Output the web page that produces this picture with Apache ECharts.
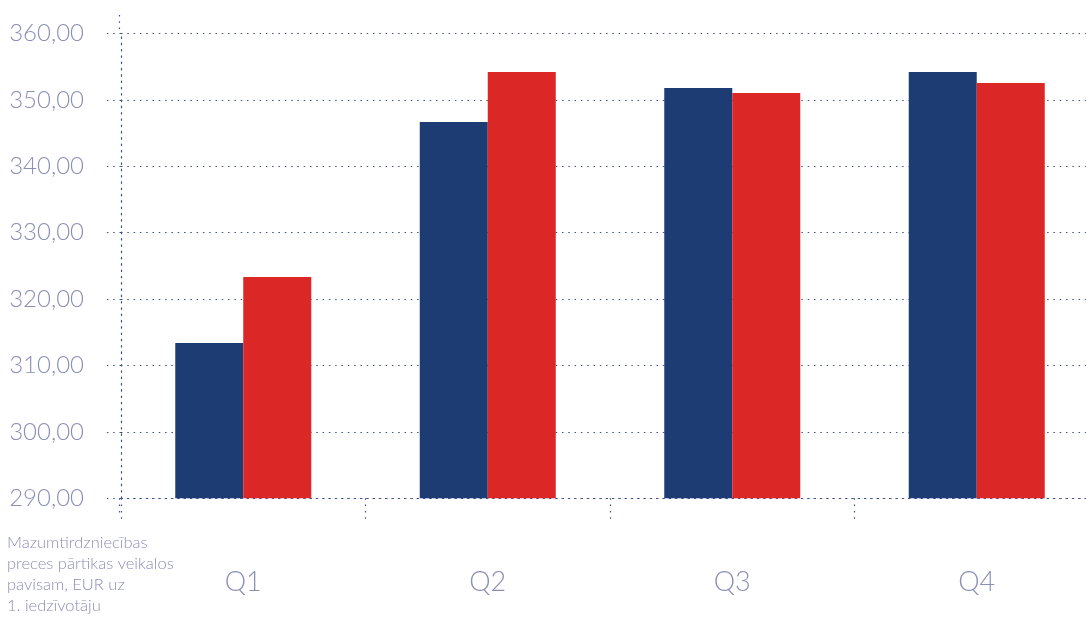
<!DOCTYPE html>
<html>
<head>
<meta charset="utf-8">
<script src="https://cdn.jsdelivr.net/npm/echarts@6/dist/echarts.min.js"></script>
<style>
  html, body { margin: 0; padding: 0; background: #ffffff; overflow: hidden; }
  #chart { width: 1100px; height: 617px; }
</style>
</head>
<body>
<div id="chart"></div>
<script>
// Quarterly retail food-store sales per inhabitant, EUR
const categories = ['Q1', 'Q2', 'Q3', 'Q4'];
const blueValues = [313.39, 346.67, 351.79, 354.20];
const redValues = [323.33, 354.20, 351.04, 352.55];
const yMin = 290;
const yMax = 360;
const yStep = 10;
const noteLines = [
  'Mazumtirdzniecības',
  'preces pārtikas veikalos',
  'pavisam, EUR uz',
  '1. iedzīvotāju'
];

const textColor = '#8b8fb6';
const dotColor = '#3f5189';
const dotLine = { color: dotColor, width: 1.2, type: [1.5, 4.8] };
const fontFamily = 'Lato, "Open Sans", sans-serif';

const chart = echarts.init(document.getElementById('chart'), null, { renderer: 'canvas' });

// the plot runs slightly past the right edge of the visible area
const gridLeft = 121, gridTop = 33.5, gridBottom = 118.7, gridWidth = 978;

chart.setOption({
  animation: false,
  backgroundColor: '#ffffff',
  grid: { left: gridLeft, top: gridTop, bottom: gridBottom, width: gridWidth, containLabel: false },
  xAxis: {
    type: 'category',
    data: categories,
    boundaryGap: true,
    axisLine: { show: true, lineStyle: dotLine },
    axisTick: { show: true, length: 22, alignWithLabel: false, lineStyle: dotLine },
    axisLabel: {
      color: textColor, fontSize: 27, fontFamily: fontFamily, fontWeight: 300,
      margin: 70
    },
    splitLine: { show: false }
  },
  yAxis: {
    type: 'value',
    min: yMin,
    max: yMax,
    interval: yStep,
    axisLine: { show: true, lineStyle: dotLine },
    axisTick: { show: true, length: 16, lineStyle: dotLine },
    axisLabel: {
      color: textColor, fontSize: 24, fontFamily: fontFamily, fontWeight: 300,
      margin: 37,
      verticalAlign: 'middle',
      padding: [0, 0, 17, 0],
      formatter: v => v.toFixed(2).replace('.', ',')
    },
    splitLine: { show: true, lineStyle: dotLine }
  },
  series: [
    {
      type: 'bar',
      data: blueValues,
      barWidth: 68,
      barGap: '0%',
      itemStyle: { color: '#1e3c74' }
    },
    {
      type: 'bar',
      data: redValues,
      barWidth: 68,
      barGap: '0%',
      itemStyle: { color: '#db2726' }
    }
  ],
  graphic: [
    // y axis line continues a little above and below the plot area
    { type: 'line', shape: { x1: gridLeft - 1.5, y1: 15, x2: gridLeft - 1.5, y2: gridTop }, style: { stroke: dotColor, lineWidth: 1.2, lineDash: [1.5, 4.8] }, silent: true },
    { type: 'line', shape: { x1: gridLeft - 1.5, y1: 617 - gridBottom, x2: gridLeft - 1.5, y2: 514 }, style: { stroke: dotColor, lineWidth: 1.2, lineDash: [1.5, 4.8] }, silent: true },
    {
      type: 'text',
      left: 7,
      top: 532,
      style: {
        text: noteLines.join('\n'),
        fill: textColor,
        font: '300 16.5px ' + fontFamily,
        lineHeight: 21
      }
    }
  ]
});
</script>
</body>
</html>
